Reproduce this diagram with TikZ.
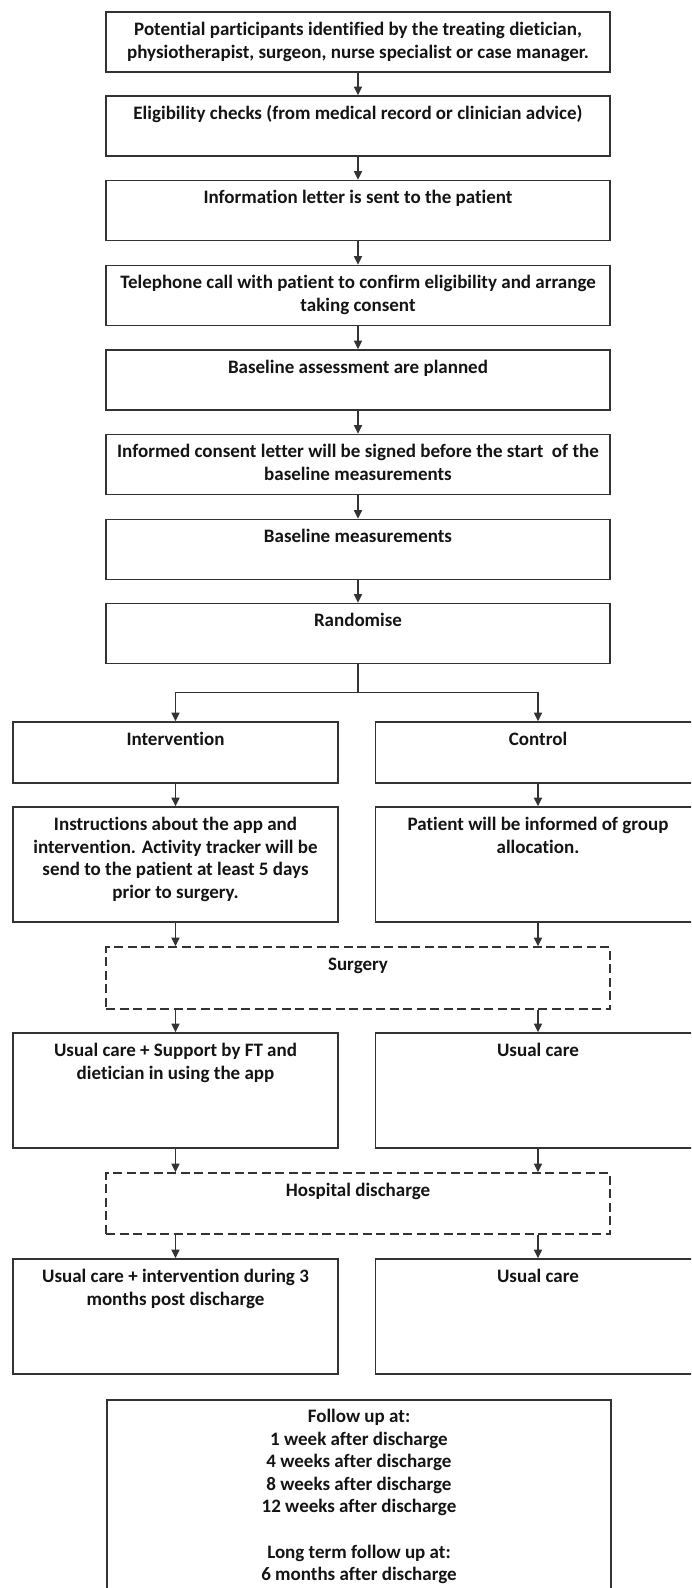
\documentclass[tikz,border=0pt]{standalone}
\usepackage{fontspec}
\setmainfont[Ligatures=NoCommon]{Carlito}
\usetikzlibrary{arrows.meta}
\definecolor{linec}{HTML}{333333}
\definecolor{textc}{HTML}{141414}
\begin{document}
\begin{tikzpicture}[x=1pt,y=-1pt,
  box/.style={draw=linec, line width=1.6pt, rectangle, inner sep=0pt},
  dbox/.style={box, dash pattern=on 9pt off 4.5pt},
  wide/.style={minimum width=504pt},
  col/.style={minimum width=325pt},
  short/.style={minimum height=61pt},
  tall/.style={minimum height=115pt},
  txt/.style={anchor=north, inner sep=0pt, align=center, text=textc,
    font=\bfseries\fontsize{19}{22.6}\selectfont},
  arr/.style={draw=linec, line width=1.3pt, -{Triangle[length=8.5pt,width=8pt]}},
  ln/.style={draw=linec, line width=1.3pt}]
\useasboundingbox (0,0) rectangle (691,1588);
\clip (0,0) rectangle (691,1588);
\fill[white] (0,0) rectangle (691,1588);

% main column
\node[box, wide, minimum height=60pt] (b1) at (358,42) {};
\node[box, wide, minimum height=60pt] (b2) at (358,126) {};
\node[box, wide, minimum height=60pt] (b3) at (358,210.5) {};
\node[box, wide, minimum height=60pt] (b4) at (358,295.5) {};
\node[box, wide, minimum height=60pt] (b5) at (358,380) {};
\node[box, wide, minimum height=60pt] (b6) at (358,464.5) {};
\node[box, wide, minimum height=60pt] (b7) at (358,549.5) {};
\node[box, wide, minimum height=60pt] (b8) at (358,633.5) {};

% two arms
\node[box, col, short] (int) at (175.5,752.5) {};
\node[box, col, short] (ctl) at (538,752.5) {};
\node[box, col, tall] (ins) at (175.5,864.5) {};
\node[box, col, tall] (pat) at (538,864.5) {};
\node[dbox, wide, minimum height=62pt] (sur) at (358,978) {};
\node[box, col, tall] (uc1) at (175.5,1090.5) {};
\node[box, col, tall] (uc2) at (538,1090.5) {};
\node[dbox, wide, short] (hos) at (358,1203.5) {};
\node[box, col, tall] (bt1) at (175.5,1316.5) {};
\node[box, col, tall] (bt2) at (538,1316.5) {};
\node[box, wide, minimum height=220pt] (fu) at (359,1510) {};

% texts
\node[txt] (t1) at ([yshift=-6pt]b1.north) {\rule{0pt}{18pt}Potential participants identified by the treating dietician,\\physiotherapist, surgeon, nurse specialist or case manager.};
\node[txt] (t2) at ([yshift=-6pt]b2.north) {\rule{0pt}{18pt}Eligibility checks (from medical record or clinician advice)};
\node[txt] (t3) at ([yshift=-6pt]b3.north) {\rule{0pt}{18pt}Information letter is sent to the patient};
\node[txt] (t4) at ([yshift=-6pt]b4.north) {\rule{0pt}{18pt}Telephone call with patient to confirm eligibility and arrange\\taking consent};
\node[txt] (t5) at ([yshift=-6pt]b5.north) {\rule{0pt}{18pt}Baseline assessment are planned};
\node[txt] (t6) at ([yshift=-6pt]b6.north) {\rule{0pt}{18pt}Informed consent letter will be signed before the start\ \ of the\\baseline measurements};
\node[txt] (t7) at ([yshift=-6pt]b7.north) {\rule{0pt}{18pt}Baseline measurements};
\node[txt] (t8) at ([yshift=-6pt]b8.north) {\rule{0pt}{18pt}Randomise};
\node[txt] (tint) at ([yshift=-6pt]int.north) {\rule{0pt}{18pt}Intervention};
\node[txt] (tctl) at ([yshift=-6pt]ctl.north) {\rule{0pt}{18pt}Control};
\node[txt] (tins) at ([yshift=-6pt]ins.north) {\rule{0pt}{18pt}Instructions about the app and\\intervention. Activity tracker will be\\send to the patient at least 5 days\\prior to surgery.};
\node[txt] (tpat) at ([yshift=-6pt]pat.north) {\rule{0pt}{18pt}Patient will be informed of group\\allocation.};
\node[txt] (tsur) at ([yshift=-6pt]sur.north) {\rule{0pt}{18pt}Surgery};
\node[txt] (tuc1) at ([yshift=-6pt]uc1.north) {\rule{0pt}{18pt}Usual care + Support by FT and\\dietician in using the app};
\node[txt] (tuc2) at ([yshift=-6pt]uc2.north) {\rule{0pt}{18pt}Usual care};
\node[txt] (thos) at ([yshift=-6pt]hos.north) {\rule{0pt}{18pt}Hospital discharge};
\node[txt] (tbt1) at ([yshift=-6pt]bt1.north) {\rule{0pt}{18pt}Usual care + intervention during 3\\months post discharge};
\node[txt] (tbt2) at ([yshift=-6pt]bt2.north) {\rule{0pt}{18pt}Usual care};
\node[txt] (tfu) at ([yshift=-5pt]fu.north) {\rule{0pt}{18pt}Follow up at:\\1 week after discharge\\4 weeks after discharge\\8 weeks after discharge\\12 weeks after discharge\\[22.6pt]Long term follow up at:\\6 months after discharge};

% connectors
\draw[arr] (b1) -- (b2);
\draw[arr] (b2) -- (b3);
\draw[arr] (b3) -- (b4);
\draw[arr] (b4) -- (b5);
\draw[arr] (b5) -- (b6);
\draw[arr] (b6) -- (b7);
\draw[arr] (b7) -- (b8);
\coordinate (split) at ([yshift=-28pt]b8.south);
\draw[ln] (b8.south) -- (split);
\draw[arr] (split) -| (int.north);
\draw[arr] (split) -| (ctl.north);
\draw[arr] (int) -- (ins);
\draw[arr] (ctl) -- (pat);
\draw[arr] (ins.south) -- (ins.south |- sur.north);
\draw[arr] (pat.south) -- (pat.south |- sur.north);
\draw[arr] (sur.south -| uc1.north) -- (uc1.north);
\draw[arr] (sur.south -| uc2.north) -- (uc2.north);
\draw[arr] (uc1.south) -- (uc1.south |- hos.north);
\draw[arr] (uc2.south) -- (uc2.south |- hos.north);
\draw[arr] (hos.south -| bt1.north) -- (bt1.north);
\draw[arr] (hos.south -| bt2.north) -- (bt2.north);
\end{tikzpicture}
\end{document}
